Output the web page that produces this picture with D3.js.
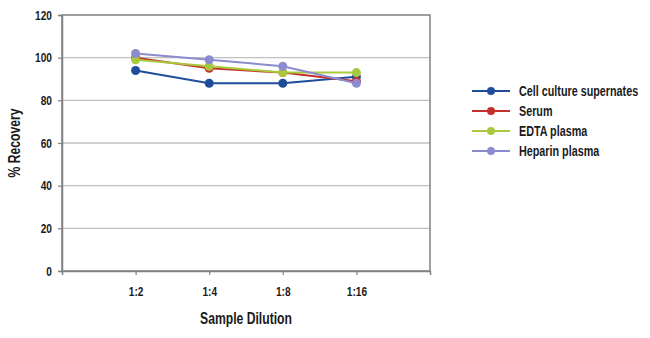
<!DOCTYPE html>
<html><head><meta charset="utf-8">
<script src="https://cdn.jsdelivr.net/npm/d3@7"></script>
<style>body{margin:0;background:#fff}svg{display:block}text{font-family:"Liberation Sans",Arial,sans-serif;font-weight:bold;fill:#1a1a1a}</style>
</head><body><svg id="c" width="650" height="338"></svg>
<script>
const categories = ["1:2","1:4","1:8","1:16"];
const seriesNames = ["Cell culture supernates","Serum","EDTA plasma","Heparin plasma"];
const cellCulture = [94,88,88,91];
const serum = [100,95,93,89];
const edta = [99,96,93,93];
const heparin = [102,99,96,88];
const yTicks = [0,20,40,60,80,100,120];
const colors = ["#1f4d9c","#c4302b","#a9c93c","#8b8bd0"];

const svg = d3.select("#c");
const L=62,R=430,T=15,B=271;
const x = d3.scalePoint().domain(categories).range([L,R]).padding(1);
const y = d3.scaleLinear().domain([0,120]).range([B,T]);

svg.append("g").selectAll("line").data(yTicks.filter(d=>d>0&&d<120)).join("line")
  .attr("x1",L).attr("x2",R).attr("y1",d=>y(d)).attr("y2",d=>y(d))
  .attr("stroke","#c0c0c0").attr("stroke-width",1.3);
svg.append("rect").attr("x",L).attr("y",T).attr("width",R-L).attr("height",B-T)
  .attr("fill","none").attr("stroke","#808080").attr("stroke-width",1.5);

const ya = svg.append("g").attr("transform",`translate(${L},0)`)
  .call(d3.axisLeft(y).tickValues(yTicks).tickSize(4).tickPadding(0));
const xa = svg.append("g").attr("transform",`translate(0,${B})`)
  .call(d3.axisBottom(x).tickSize(4).tickPadding(12));
[ya,xa].forEach(a=>{a.select(".domain").attr("stroke","#808080").attr("stroke-width",1.5);
  a.selectAll(".tick line").attr("stroke","#808080").attr("stroke-width",1.2);
  a.selectAll("text").style("font-family",'"Liberation Sans",Arial,sans-serif').style("font-weight","bold").attr("font-size",13).attr("fill","#1a1a1a");});
ya.selectAll(".tick text").attr("x",null).attr("transform","translate(-10,0) scale(0.78,1)");
xa.selectAll(".tick text").attr("transform","scale(0.78,1)");

const data = [cellCulture,serum,edta,heparin];
const line = d3.line().x((d,i)=>x(categories[i])).y(d=>y(d));
data.forEach((s,k)=>{
  const g = svg.append("g");
  g.append("path").datum(s).attr("d",line).attr("fill","none").attr("stroke",colors[k]).attr("stroke-width",2);
  g.selectAll("circle").data(s).join("circle").attr("cx",(d,i)=>x(categories[i])).attr("cy",d=>y(d))
    .attr("r",4.5).attr("fill",colors[k]);
});

svg.append("text").attr("transform","translate(246,324) scale(0.76,1)").attr("text-anchor","middle").attr("font-size",16)
  .text("Sample Dilution");
svg.append("text").attr("transform","translate(20,143) rotate(-90) scale(0.76,1)").attr("text-anchor","middle").attr("font-size",16)
  .text("% Recovery");

const lg = svg.append("g");
seriesNames.forEach((n,k)=>{
  const yy = 91 + k*20;
  lg.append("line").attr("x1",472).attr("x2",510).attr("y1",yy).attr("y2",yy).attr("stroke",colors[k]).attr("stroke-width",2);
  lg.append("circle").attr("cx",491).attr("cy",yy).attr("r",4).attr("fill",colors[k]);
  lg.append("text").attr("transform",`translate(519,${yy+5}) scale(0.77,1)`).attr("font-size",14).text(n);
});
</script></body></html>
